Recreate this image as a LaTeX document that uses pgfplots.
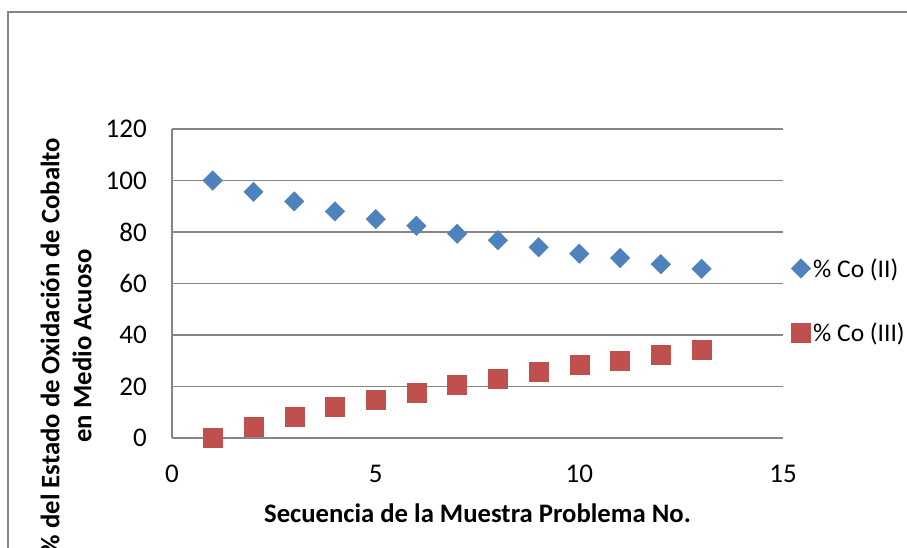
\documentclass[border=0pt]{standalone}
\usepackage{fontspec}
\setmainfont{Carlito}
\usepackage{pgfplots}
\pgfplotsset{compat=1.18}
\definecolor{coII}{HTML}{4F81BD}
\definecolor{coIII}{HTML}{C0504D}
\definecolor{framegray}{HTML}{868686}

\begin{document}
\begin{tikzpicture}
% page area and chart frame
\path[use as bounding box, clip] (0bp,0bp) rectangle (907bp,-548bp);
\draw[framegray, line width=1.6bp] (8bp,-600bp) -- (8bp,-12bp) -- (960bp,-12bp);
\begin{axis}[
  at={(172bp,-438bp)}, anchor=south west,
  scale only axis, width=611bp, height=309bp,
  xmin=0, xmax=15, ymin=0, ymax=120,
  xtick={0,5,10,15}, ytick={0,20,...,120},
  axis x line*=bottom, axis y line*=left,
  axis line style={-, draw=framegray, line width=1.2bp},
  ymajorgrids, grid style={draw=framegray, line width=1.2bp},
  major tick length=0pt,
  clip=false,
  /pgf/number format/assume math mode=true,
  tick label style={font=\fontsize{27bp}{30bp}\selectfont, inner sep=0pt},
  yticklabel style={anchor=east, xshift=-25bp},
  xticklabel style={anchor=north, yshift=-27bp},
  xlabel={Secuencia de la Muestra Problema No.},
  xlabel style={font=\fontsize{26.7bp}{30bp}\selectfont\bfseries,
    at={(axis description cs:0.5,0)}, anchor=base, yshift=-84bp},
  ylabel={\% del Estado de Oxidación de Cobalto\\en Medio Acuoso},
  ylabel style={font=\fontsize{26.7bp}{32bp}\selectfont\bfseries, align=center,
    at={(axis description cs:-0.1735,0.2977)}, anchor=center, rotate=0},
  legend style={draw=none, fill=none, at={(axis description cs:1.013,0.445)},
    anchor=west, font=\fontsize{25.5bp}{30bp}\selectfont,
    row sep=39bp, inner sep=0pt,
    nodes={inner sep=2.5bp}},
  legend cell align=left,
  legend image code/.code={\draw[#1] plot coordinates {(9bp,0bp)};},
]
% diamonds: squares turned by 45 degrees
\addplot[only marks, mark=square*, mark size=6.9bp, mark options={rotate=45, draw=coII, fill=coII}]
  coordinates {(1,100.0) (2,95.6) (3,91.9) (4,88.0) (5,85.0) (6,82.4) (7,79.3)
               (8,76.8) (9,74.1) (10,71.6) (11,69.9) (12,67.5) (13,65.7)};
\addlegendentry{\% Co (II)}
\addplot[only marks, mark=square*, mark size=9.5bp, mark options={draw=coIII, fill=coIII}]
  coordinates {(1,0.0) (2,4.4) (3,8.1) (4,12.0) (5,15.0) (6,17.6) (7,20.7)
               (8,23.2) (9,25.9) (10,28.4) (11,30.1) (12,32.5) (13,34.3)};
\addlegendentry{\% Co (III)}
\end{axis}
\end{tikzpicture}
\end{document}
